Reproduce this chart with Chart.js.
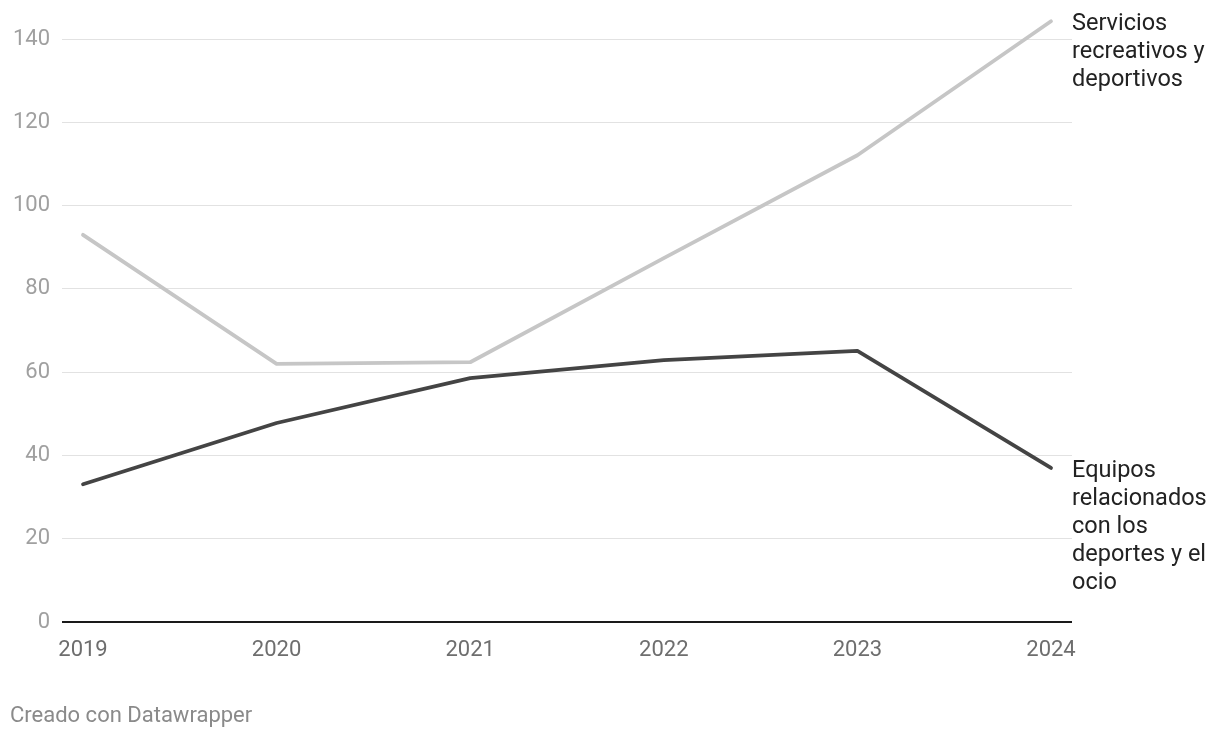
<!DOCTYPE html>
<html>
<head>
<meta charset="utf-8">
<script src="https://cdn.jsdelivr.net/npm/chart.js@4"></script>
<style>
html,body{margin:0;padding:0;background:#fff;}
#wrap{position:relative;width:1220px;height:738px;}
canvas{display:block;}
</style>
</head>
<body>
<div id="wrap"><canvas id="c" width="1220" height="738"></canvas></div>
<script>
const years = [2019, 2020, 2021, 2022, 2023, 2024];
const serviciosValues = [93, 62, 62.4, 87.4, 112.1, 144.3];
const equiposValues = [33.1, 47.8, 58.6, 62.9, 65.1, 37.0];
const yTickValues = [0, 20, 40, 60, 80, 100, 120, 140];
const serviciosLabel = ["Servicios", "recreativos y", "deportivos"];
const equiposLabel = ["Equipos", "relacionados", "con los", "deportes y el", "ocio"];
const footerText = "Creado con Datawrapper";

const FONT = "Roboto, 'Noto Sans', sans-serif";

const labelPlugin = {
  id: 'endLabels',
  afterDatasetsDraw(chart) {
    const ctx = chart.ctx;
    const ys = chart.scales.y;
    ctx.save();
    ctx.font = "23.5px " + FONT;
    ctx.fillStyle = "#222222";
    ctx.textAlign = "left";
    ctx.textBaseline = "middle";
    const sets = [[serviciosLabel, serviciosValues], [equiposLabel, equiposValues]];
    sets.forEach(([lines, vals]) => {
      const x = chart.chartArea.right;
      const y0 = ys.getPixelForValue(vals[vals.length - 1]) + 3;
      lines.forEach((t, i) => ctx.fillText(t, x, y0 + i * 28));
    });
    ctx.font = "22px " + FONT;
    ctx.fillStyle = "#8a8a8a";
    ctx.fillText(footerText, 10, 716);
    ctx.restore();
  }
};

new Chart(document.getElementById('c'), {
  type: 'line',
  data: {
    datasets: [
      {
        label: serviciosLabel.join(' '),
        data: years.map((y, i) => ({x: y, y: serviciosValues[i]})),
        borderColor: '#c6c6c6',
        borderWidth: 3.8,
        pointRadius: 0,
        tension: 0,
        borderCapStyle: 'round',
        borderJoinStyle: 'round'
      },
      {
        label: equiposLabel.join(' '),
        data: years.map((y, i) => ({x: y, y: equiposValues[i]})),
        borderColor: '#444444',
        borderWidth: 3.8,
        pointRadius: 0,
        tension: 0,
        borderCapStyle: 'round',
        borderJoinStyle: 'round'
      }
    ]
  },
  options: {
    responsive: false,
    animation: false,
    events: [],
    layout: { padding: { left: 0, right: 148, top: 10, bottom: 76 } },
    plugins: { legend: { display: false }, tooltip: { enabled: false } },
    scales: {
      x: {
        type: 'linear',
        min: 2019 - 0.1085,
        max: 2024 + 0.1085,
        afterBuildTicks(scale) { scale.ticks = years.map(v => ({value: v})); },
        afterFit(scale) {
          scale.height = 40;
          scale.paddingLeft = 0; scale.paddingRight = 0;
        },
        grid: { display: false },
        border: { display: false },
        ticks: {
          color: '#6e6e6e',
          font: { family: FONT, size: 22 },
          padding: 7,
          maxRotation: 0,
          autoSkip: false,
          callback: v => String(v)
        }
      },
      y: {
        min: 0,
        max: 147,
        afterBuildTicks(scale) { scale.ticks = yTickValues.map(v => ({value: v})); },
        afterFit(scale) {
          scale.width = 62;
          scale.paddingTop = 0; scale.paddingBottom = 0;
        },
        grid: {
          drawTicks: false,
          color: c => c.tick && c.tick.value === 0 ? '#1a1a1a' : '#e2e2e2',
          lineWidth: c => c.tick && c.tick.value === 0 ? 2 : 1
        },
        border: { display: false },
        ticks: {
          color: '#a0a0a0',
          font: { family: FONT, size: 22 },
          padding: 12,
          callback: v => String(v)
        }
      }
    }
  },
  plugins: [labelPlugin]
});
</script>
</body>
</html>
